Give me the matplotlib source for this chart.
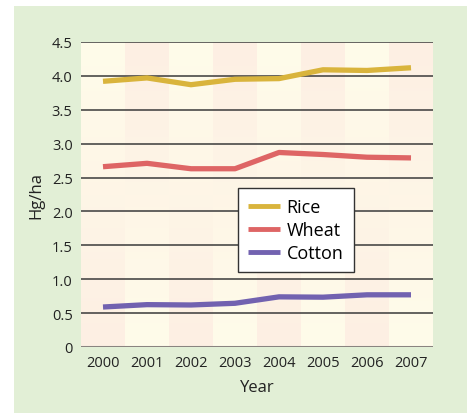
import numpy as np
import matplotlib.pyplot as plt
from matplotlib.patches import Rectangle
from matplotlib.colors import LinearSegmentedColormap

# Yield data (Hg/ha)
years = ['2000', '2001', '2002', '2003', '2004', '2005', '2006', '2007']
rice = [3.92, 3.97, 3.87, 3.95, 3.96, 4.09, 4.08, 4.12]
wheat = [2.66, 2.71, 2.63, 2.63, 2.87, 2.84, 2.80, 2.79]
cotton = [0.59, 0.625, 0.62, 0.645, 0.74, 0.735, 0.77, 0.77]
yticks = [0, 0.5, 1.0, 1.5, 2.0, 2.5, 3.0, 3.5, 4.0, 4.5]
yticklabels = ['0', '0.5', '1.0', '1.5', '2.0', '2.5', '3.0', '3.5', '4.0', '4.5']

plt.rcParams['font.family'] = ['Open Sans', 'DejaVu Sans']

fig = plt.figure(figsize=(4.67, 4.14), dpi=100)
fig.patch.set_facecolor('white')
# green panel behind the chart
fig.patches.append(Rectangle((14 / 467, 0), 1, 1 - 7 / 414, transform=fig.transFigure,
                             facecolor='#e2efd6', edgecolor='none', zorder=-10))

ax = fig.add_axes([81 / 467, 1 - 348 / 414, 352 / 467, 305 / 414])
ax.set_zorder(1)
ax.set_xlim(-0.5, 7.5)
ax.set_ylim(0, 4.5)

# alternating column stripes with vertical gradient
cmap = LinearSegmentedColormap.from_list('stripe', ['#fdefe3', '#fffcea'])
grad = np.linspace(0, 1, 100).reshape(-1, 1)
for i in range(len(years)):
    g = grad if i % 2 == 0 else grad[::-1]
    ax.imshow(g, cmap=cmap, aspect='auto', origin='lower',
              extent=(i - 0.5, i + 0.5, 0, 4.5), zorder=0, vmin=0, vmax=1)

for y in yticks[1:]:
    ax.axhline(y, color='#3a3a3a', lw=1.1, zorder=1)
ax.axhline(0, color='#8a8480', lw=2.2, zorder=1)

x = np.arange(len(years))
ax.plot(x, rice, color='#d9b43c', lw=3.8, label='Rice', solid_capstyle='butt', zorder=3)
ax.plot(x, wheat, color='#de6565', lw=3.8, label='Wheat', solid_capstyle='butt', zorder=3)
ax.plot(x, cotton, color='#7262b0', lw=3.8, label='Cotton', solid_capstyle='butt', zorder=3)

for s in ax.spines.values():
    s.set_visible(False)
ax.set_xticks(x)
ax.set_xticklabels(years, fontsize=10.5, color='#222222')
ax.set_yticks(yticks)
ax.set_yticklabels(yticklabels, fontsize=10.5, color='#222222')
ax.tick_params(length=0, pad=6)
ax.set_xlabel('Year', fontsize=12, color='#222222', labelpad=6)
ax.set_ylabel('Hg/ha', fontsize=12, color='#222222', labelpad=5)

leg = ax.legend(loc='upper left', bbox_to_anchor=(0.446, 0.521), borderaxespad=0,
                fancybox=False, framealpha=1, edgecolor='#333333', fontsize=13,
                handlelength=1.8, handletextpad=0.35, labelspacing=0.28, borderpad=0.55)
leg.get_frame().set_linewidth(1.0)
for line in leg.get_lines():
    line.set_linewidth(3.5)

fig.savefig('out.png', dpi=100)
